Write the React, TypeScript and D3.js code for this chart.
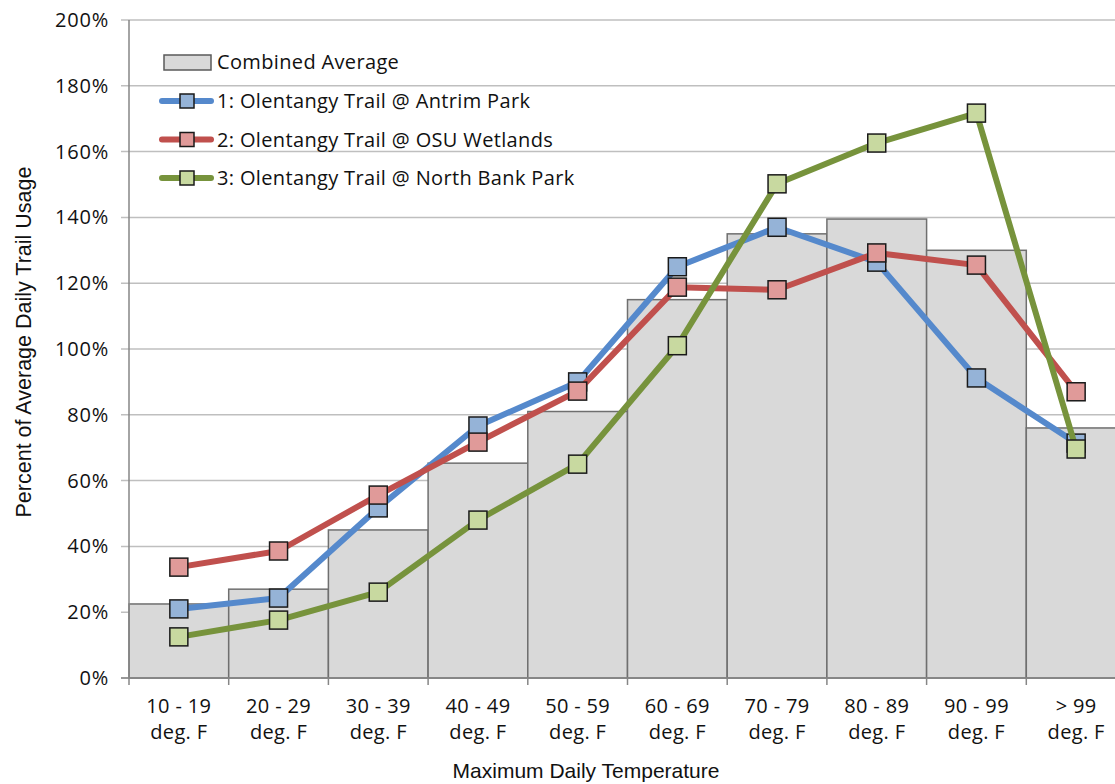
import React from "react";
import * as d3 from "d3";

const categories = ["10 - 19", "20 - 29", "30 - 39", "40 - 49", "50 - 59", "60 - 69", "70 - 79", "80 - 89", "90 - 99", "> 99"];
const combinedAverage = [22.5, 27, 45, 65.3, 81, 115, 135, 139.5, 130, 76];
const antrimPark = [21, 24.3, 51.7, 76.6, 90, 125, 137, 126.4, 91.2, 71.4];
const osuWetlands = [33.7, 38.6, 55.6, 71.7, 87.2, 118.8, 118, 129.2, 125.5, 87];
const northBankPark = [12.5, 17.6, 26.1, 48, 65, 101, 150.2, 162.6, 171.7, 69.6];
const yTicks = [0, 20, 40, 60, 80, 100, 120, 140, 160, 180, 200];

const series = [
  { name: "1: Olentangy Trail @ Antrim Park", values: antrimPark, line: "#5589cc", fill: "#95b3d7" },
  { name: "2: Olentangy Trail @ OSU Wetlands", values: osuWetlands, line: "#c0504d", fill: "#e09a99" },
  { name: "3: Olentangy Trail @ North Bank Park", values: northBankPark, line: "#77933c", fill: "#c8d9a0" },
];

const FONT = "'Open Sans', Roboto, sans-serif";
const TITLE_FONT = "'Liberation Sans', Arial, sans-serif";
const FS = 20;
const LS = 0.35;

export default function App() {
  const W = 1115, H = 784;
  const left = 129, top = 20, bottom = 678;
  const bandW = 99.7;
  const x = d3.scaleBand<string>().domain(categories).range([left, left + bandW * categories.length]).padding(0);
  const y = d3.scaleLinear().domain([0, 200]).range([bottom, top]);
  const line = d3.line<number>().x((_, i) => (x(categories[i]) as number) + x.bandwidth() / 2).y((v) => y(v));
  const ms = 18;

  return (
    <svg width={W} height={H} style={{ position: "fixed", left: 0, top: 0, background: "#fff" }} fontFamily={FONT}>
      {yTicks.map((t) => (
        <line key={"g" + t} x1={left - 8} x2={W} y1={y(t)} y2={y(t)} stroke="#bfbfbf" strokeWidth={1.5} />
      ))}
      {categories.map((c, i) => (
        <rect key={"b" + c} x={x(c)} y={y(combinedAverage[i])} width={x.bandwidth()} height={bottom - y(combinedAverage[i])}
          fill="#d9d9d9" stroke="#6f6f6f" strokeWidth={1.5} />
      ))}
      <line x1={left} x2={left} y1={top} y2={bottom} stroke="#868686" strokeWidth={1.5} />
      <line x1={left - 8} x2={W} y1={bottom} y2={bottom} stroke="#868686" strokeWidth={1.5} />
      {categories.map((c, i) => (
        <line key={"xt" + i} x1={(x(c) as number)} x2={(x(c) as number)} y1={bottom} y2={bottom + 7} stroke="#868686" strokeWidth={1.5} />
      ))}
      {yTicks.map((t) => (
        <text key={"yl" + t} x={109} y={y(t)} dy="0.35em" textAnchor="end" fontSize={FS} letterSpacing={0.8} fill="#111">{t}%</text>
      ))}
      {categories.map((c) => {
        const cx = (x(c) as number) + x.bandwidth() / 2;
        return (
          <g key={"xl" + c}>
            <text x={cx} y={706} dy="0.35em" textAnchor="middle" fontSize={FS} letterSpacing={LS} fill="#111">{c}</text>
            <text x={cx} y={732} dy="0.35em" textAnchor="middle" fontSize={FS} letterSpacing={LS} fill="#111">deg. F</text>
          </g>
        );
      })}
      <text x={586} y={771} dy="0.35em" textAnchor="middle" fontSize={21} fontFamily={TITLE_FONT} fill="#111">Maximum Daily Temperature</text>
      <text transform={`translate(23,${342}) rotate(-90)`} dy="0.35em" textAnchor="middle" fontSize={21.5} fontFamily={TITLE_FONT} fill="#111">Percent of Average Daily Trail Usage</text>
      {series.map((s) => (
        <g key={s.name}>
          <path d={line(s.values) as string} fill="none" stroke={s.line} strokeWidth={6} strokeLinejoin="round" />
          {s.values.map((v, i) => (
            <rect key={i} x={(x(categories[i]) as number) + x.bandwidth() / 2 - ms / 2} y={y(v) - ms / 2} width={ms} height={ms}
              fill={s.fill} stroke="#1a1a1a" strokeWidth={1.5} />
          ))}
        </g>
      ))}
      <rect x={164} y={55} width={47} height={15} fill="#d9d9d9" stroke="#5a5a5a" strokeWidth={1.5} />
      <text x={217} y={62} dy="0.35em" fontSize={FS} letterSpacing={LS} fill="#111">Combined Average</text>
      {series.map((s, i) => {
        const cy = 101 + i * 38.5;
        return (
          <g key={"lg" + i}>
            <line x1={162} x2={211} y1={cy} y2={cy} stroke={s.line} strokeWidth={6} strokeLinecap="round" />
            <rect x={180} y={cy - 7} width={14} height={14} fill={s.fill} stroke="#1a1a1a" strokeWidth={1.5} />
            <text x={217} y={cy} dy="0.35em" fontSize={FS} letterSpacing={LS} fill="#111">{s.name}</text>
          </g>
        );
      })}
    </svg>
  );
}
